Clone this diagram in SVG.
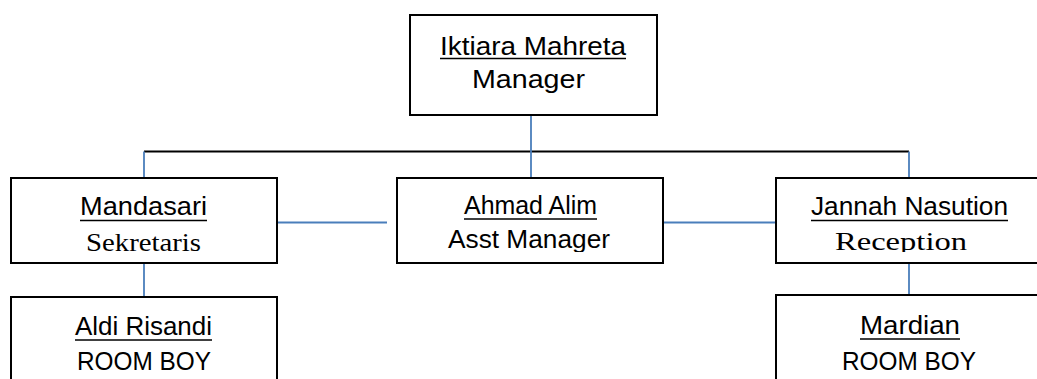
<svg xmlns="http://www.w3.org/2000/svg" width="1037" height="379" viewBox="0 0 1037 379">
<style>
.box{fill:#fff;stroke:#000;stroke-width:2}
.blue{stroke:#4a7ebb;stroke-width:1.8;fill:none}
.blk{stroke:#000;stroke-width:2;fill:none}
.s{font-family:"Liberation Sans",Arial,sans-serif;font-size:25px;fill:#000}
.r{font-family:"Liberation Serif","Times New Roman",serif;font-size:26px;fill:#000}
.ul{stroke:#000;stroke-width:1.6}
</style>
<defs>
<clipPath id="c1"><rect x="396" y="178" width="268" height="74"/></clipPath>
<clipPath id="c2"><rect x="776" y="178" width="262" height="74"/></clipPath>
</defs>
<g id="connectors">
<line class="blk" x1="144" y1="151.5" x2="909" y2="151.5"/>
<line class="blue" x1="531" y1="115" x2="531" y2="178"/>
<line class="blue" x1="144" y1="151.5" x2="144" y2="178"/>
<line class="blue" x1="909" y1="151.5" x2="909" y2="178"/>
<line class="blue" x1="277" y1="222.5" x2="387" y2="222.5"/>
<line class="blue" x1="664" y1="222.5" x2="776" y2="222.5"/>
<line class="blue" x1="144" y1="263" x2="144" y2="297"/>
<line class="blue" x1="909" y1="263" x2="909" y2="295"/>
</g>
<g id="manager">
<rect class="box" x="410" y="15" width="247" height="100"/>
<text class="s" x="440" y="55" textLength="186" lengthAdjust="spacingAndGlyphs">Iktiara Mahreta</text>
<line class="ul" x1="440" y1="58.5" x2="626" y2="58.5"/>
<text class="s" x="472" y="88" textLength="113" lengthAdjust="spacingAndGlyphs">Manager</text>
</g>
<g id="mandasari">
<rect class="box" x="11" y="178" width="266" height="85"/>
<text class="s" x="80" y="215" textLength="127" lengthAdjust="spacingAndGlyphs">Mandasari</text>
<line class="ul" x1="80" y1="220.5" x2="207" y2="220.5"/>
<text class="r" x="86" y="250.5" textLength="115" lengthAdjust="spacingAndGlyphs">Sekretaris</text>
</g>
<g id="ahmad">
<rect class="box" x="397" y="178" width="266" height="85"/>
<g clip-path="url(#c1)">
<text class="s" x="464" y="214" textLength="133" lengthAdjust="spacingAndGlyphs">Ahmad Alim</text>
<line class="ul" x1="464" y1="219" x2="597" y2="219"/>
<text class="s" x="448" y="247.5" textLength="162" lengthAdjust="spacingAndGlyphs">Asst Manager</text>
</g>
</g>
<g id="jannah">
<rect class="box" x="776" y="178" width="270" height="85"/>
<g clip-path="url(#c2)">
<text class="s" x="811" y="215" textLength="197" lengthAdjust="spacingAndGlyphs">Jannah Nasution</text>
<line class="ul" x1="811" y1="220.5" x2="1008" y2="220.5"/>
<text class="r" x="835" y="250" textLength="132" lengthAdjust="spacingAndGlyphs">Reception</text>
</g>
</g>
<g id="aldi">
<rect class="box" x="11" y="297" width="266" height="100"/>
<text class="s" x="75" y="335" textLength="137" lengthAdjust="spacingAndGlyphs">Aldi Risandi</text>
<line class="ul" x1="75" y1="340" x2="212" y2="340"/>
<text class="s" x="77" y="370" textLength="134" lengthAdjust="spacingAndGlyphs">ROOM BOY</text>
</g>
<g id="mardian">
<rect class="box" x="776" y="295" width="270" height="100"/>
<text class="s" x="860" y="333.5" textLength="100" lengthAdjust="spacingAndGlyphs">Mardian</text>
<line class="ul" x1="860" y1="339" x2="960" y2="339"/>
<text class="s" x="842" y="370" textLength="134" lengthAdjust="spacingAndGlyphs">ROOM BOY</text>
</g>
</svg>
